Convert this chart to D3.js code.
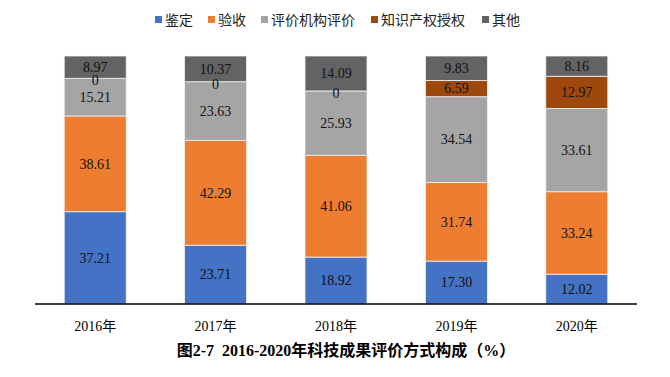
<!DOCTYPE html>
<html>
<head>
<meta charset="utf-8">
<script src="https://cdn.jsdelivr.net/npm/d3@7"></script>
<style>
  body { margin: 0; background: #fff; }
  #chart svg { display: block; }
</style>
</head>
<body>
<div id="chart"></div>
<script>
const years = ["2016年", "2017年", "2018年", "2019年", "2020年"];
const seriesNames = ["鉴定", "验收", "评价机构评价", "知识产权授权", "其他"];
const jianding = [37.21, 23.71, 18.92, 17.30, 12.02];
const yanshou = [38.61, 42.29, 41.06, 31.74, 33.24];
const pingjia = [15.21, 23.63, 25.93, 34.54, 33.61];
const zhishi = [0, 0, 0, 6.59, 12.97];
const qita = [8.97, 10.37, 14.09, 9.83, 8.16];
const colors = ["#4472C4", "#ED7D31", "#A5A5A5", "#9E480E", "#636363"];
const legendX = [155, 208, 261, 371, 482];

const W = 670, H = 377;
const svg = d3.select("#chart").append("svg")
  .attr("width", W)
  .attr("height", H);

// tabela por ano
const rows = years.map((yr, i) => ({
  year: yr,
  "鉴定": jianding[i],
  "验收": yanshou[i],
  "评价机构评价": pingjia[i],
  "知识产权授权": zhishi[i],
  "其他": qita[i]
}));

const stacked = d3.stack().keys(seriesNames)(rows);

const x = d3.scaleBand()
  .domain(years)
  .range([35, 637])
  .paddingInner(0.485)
  .paddingOuter(0.2425);

const y = d3.scaleLinear()
  .domain([0, 100])
  .range([304, 56]);

const color = d3.scaleOrdinal().domain(seriesNames).range(colors);

// barras
const layer = svg.selectAll(".layer")
  .data(stacked)
  .enter()
  .append("g")
  .attr("fill", d => color(d.key));

layer.selectAll("rect")
  .data(d => d)
  .enter()
  .append("rect")
  .attr("x", d => x(d.data.year))
  .attr("width", x.bandwidth())
  .attr("y", d => y(d[1]))
  .attr("height", d => y(d[0]) - y(d[1]))
  .attr("stroke", "#f2f2f2")
  .attr("stroke-width", 0.8);

// rótulos de valor
stacked.forEach(s => {
  svg.selectAll(null)
    .data(s)
    .enter()
    .append("text")
    .attr("x", d => x(d.data.year) + x.bandwidth() / 2)
    .attr("y", d => (y(d[0]) + y(d[1])) / 2 + (d.data[s.key] === 0 ? 2 : 0))
    .attr("dy", "0.35em")
    .attr("text-anchor", "middle")
    .style("font-family", "'Liberation Serif', 'Times New Roman', serif")
    .style("font-size", "14px")
    .style("fill", "#111")
    .text(d => {
      const v = d.data[s.key];
      return v === 0 ? "0" : v.toFixed(2);
    });
});

// eixo x
const xAxis = svg.append("g")
  .attr("transform", "translate(0,304)")
  .call(d3.axisBottom(x).tickSize(0).tickPadding(17));
xAxis.select(".domain").attr("stroke", "#000").attr("stroke-width", 1.3).attr("d", "M35,0H637");
xAxis.selectAll("text")
  .style("font-family", "'Liberation Serif', 'Noto Sans CJK SC', serif")
  .style("font-size", "14px")
  .style("fill", "#000");

// legenda
const legend = svg.selectAll(".legend")
  .data(seriesNames)
  .enter()
  .append("g")
  .attr("transform", (d, i) => `translate(${legendX[i]}, 20)`);

legend.append("rect")
  .attr("x", 0)
  .attr("y", -4)
  .attr("width", 7)
  .attr("height", 7)
  .attr("fill", d => color(d));

legend.append("text")
  .attr("x", 10)
  .attr("y", 0)
  .attr("dy", "0.35em")
  .style("font-family", "'Noto Sans CJK SC', sans-serif")
  .style("font-size", "14px")
  .style("fill", "#222")
  .text(d => d);

// título
svg.append("text")
  .attr("x", 346)
  .attr("y", 350)
  .attr("dy", "0.35em")
  .attr("text-anchor", "middle")
  .style("font-family", "'Liberation Serif', 'Noto Sans CJK SC', serif")
  .style("font-size", "16px")
  .style("font-weight", "bold")
  .style("fill", "#000")
  .text("图2-7\u00a0\u00a02016-2020年科技成果评价方式构成（%）");
</script>
</body>
</html>
